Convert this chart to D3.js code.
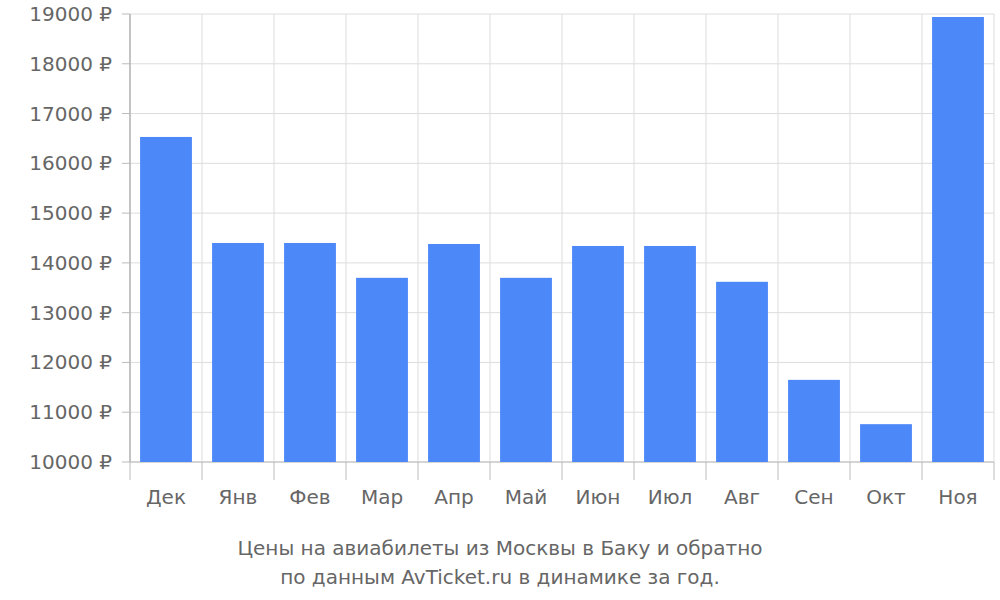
<!DOCTYPE html><html><head><meta charset="utf-8">
<script src="https://cdn.jsdelivr.net/npm/d3@7"></script>
<style>body{margin:0;background:#fff}text{font-family:"DejaVu Sans";fill:#666}</style></head><body>
<svg id="c" width="1000" height="600"></svg>
<script>
const categories=["Дек","Янв","Фев","Мар","Апр","Май","Июн","Июл","Авг","Сен","Окт","Ноя"];
const prices=[16530,14400,14400,13700,14380,13700,14340,14340,13620,11650,10760,18940];
const yTicks=[10000,11000,12000,13000,14000,15000,16000,17000,18000,19000];
const title=["Цены на авиабилеты из Москвы в Баку и обратно","по данным AvTicket.ru в динамике за год."];
const svg=d3.select("#c");
const L=130,R=994,T=14,B=462;
const x=d3.scaleBand().domain(categories).range([L,R]).paddingInner(0.28).paddingOuter(0.14);
const xg=d3.scaleBand().domain(categories).range([L,R]);
const y=d3.scaleLinear().domain([10000,19000]).range([B,T]);
const g=svg.append("g");
g.selectAll(".h").data(yTicks).join("line").attr("x1",L).attr("x2",R).attr("y1",d=>y(d)).attr("y2",d=>y(d)).attr("stroke","#ddd");
g.selectAll(".v").data(categories.concat([null])).join("line").attr("x1",(d,i)=>L+i*xg.step()).attr("x2",(d,i)=>L+i*xg.step()).attr("y1",T).attr("y2",B).attr("stroke","#ddd");
g.selectAll(".vt").data(categories.concat([null])).join("line").attr("x1",(d,i)=>L+i*xg.step()).attr("x2",(d,i)=>L+i*xg.step()).attr("y1",B).attr("y2",480).attr("stroke","#bbb");
g.append("line").attr("x1",L).attr("x2",L).attr("y1",T).attr("y2",B).attr("stroke","#999");
g.append("line").attr("x1",L).attr("x2",R).attr("y1",B).attr("y2",B).attr("stroke","#bbb");
g.selectAll("rect").data(prices).join("rect").attr("x",(d,i)=>x(categories[i])).attr("width",x.bandwidth()).attr("y",d=>y(d)).attr("height",d=>B-y(d)).attr("fill","#4d88f9");
g.selectAll(".yl").data(yTicks).join("text").attr("x",112).attr("y",d=>y(d)+7).attr("text-anchor","end").attr("font-size",20).text(d=>d+" ₽");
g.selectAll(".yt").data(yTicks).join("line").attr("x1",122).attr("x2",L).attr("y1",d=>y(d)).attr("y2",d=>y(d)).attr("stroke","#bbb");
g.selectAll(".xl").data(categories).join("text").attr("x",d=>xg(d)+xg.bandwidth()/2).attr("y",504).attr("text-anchor","middle").attr("font-size",20).text(d=>d);
g.selectAll(".t").data(title).join("text").attr("x",500).attr("y",(d,i)=>555+i*29).attr("text-anchor","middle").attr("font-size",20).text(d=>d);
</script></body></html>
